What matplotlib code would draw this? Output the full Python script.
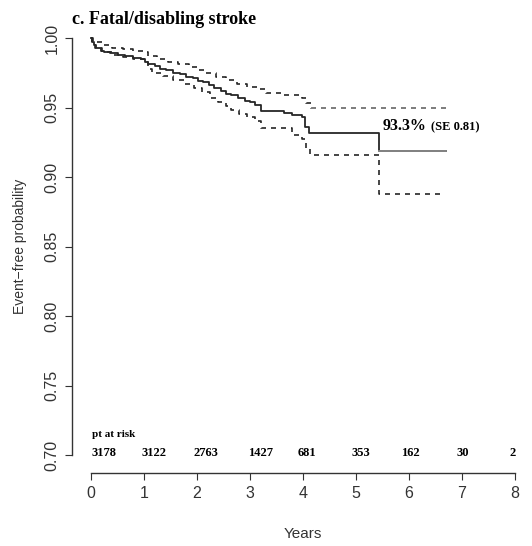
import matplotlib
matplotlib.use('Agg')
import matplotlib.pyplot as plt
import numpy as np

SERIF = ['Liberation Serif', 'DejaVu Serif']
SANS = ['Liberation Sans', 'DejaVu Sans']

# Kaplan-Meier estimate (step times in years, survival)
km_t = [0, 0.02, 0.05, 0.1, 0.18, 0.25, 0.35, 0.5, 0.65, 0.8, 0.95, 1.02, 1.08,
        1.2, 1.3, 1.42, 1.55, 1.68, 1.8, 1.92, 2.02, 2.12, 2.22, 2.32, 2.45,
        2.55, 2.65, 2.78, 2.9, 3.0, 3.1, 3.2, 3.65, 3.8, 3.98, 4.04, 4.12,
        5.44, 6.69]
km_s = [1.0, 0.997, 0.995, 0.993, 0.991, 0.990, 0.989, 0.988, 0.987, 0.9858,
        0.985, 0.983, 0.981, 0.980, 0.978, 0.977, 0.975, 0.974, 0.972, 0.971,
        0.969, 0.968, 0.966, 0.964, 0.962, 0.960, 0.959, 0.957, 0.955, 0.954,
        0.952, 0.9475, 0.946, 0.9445, 0.943, 0.936, 0.932, 0.919, 0.919]

# upper confidence limit
up_t = [0, 0.03, 0.1, 0.25, 0.4, 0.6, 0.8, 1.0, 1.08, 1.25, 1.45, 1.65, 1.85,
        2.0, 2.15, 2.35, 2.55, 2.75, 2.95, 3.15, 3.3, 3.6, 3.98, 4.05, 4.15, 6.69]
up_s = [1.0, 0.998, 0.997, 0.995, 0.993, 0.992, 0.991, 0.990, 0.987, 0.985,
        0.983, 0.981, 0.979, 0.977, 0.975, 0.972, 0.970, 0.967, 0.965, 0.963,
        0.9605, 0.959, 0.957, 0.953, 0.950, 0.950]

# lower confidence limit
lo_t = [0, 0.02, 0.08, 0.2, 0.4, 0.6, 0.8, 1.0, 1.08, 1.15, 1.35, 1.55, 1.75,
        1.95, 2.1, 2.25, 2.4, 2.55, 2.65, 2.8, 2.95, 3.1, 3.2, 3.8, 3.98, 4.05,
        4.14, 5.44, 6.58]
lo_s = [1.0, 0.995, 0.993, 0.990, 0.988, 0.9865, 0.985, 0.983, 0.978, 0.975,
        0.973, 0.970, 0.967, 0.964, 0.961, 0.957, 0.954, 0.951, 0.948, 0.945,
        0.943, 0.940, 0.9355, 0.930, 0.927, 0.921, 0.9155, 0.8875, 0.8875]

years = [0, 1, 2, 3, 4, 5, 6, 7, 8]
at_risk = [3178, 3122, 2763, 1427, 681, 353, 162, 30, 2]
risk_shift = [0.25, 0.19, 0.17, 0.2, 0.07, 0.1, 0.03, 0.02, -0.05]

yticks = [0.70, 0.75, 0.80, 0.85, 0.90, 0.95, 1.00]

fig = plt.figure(figsize=(5.32, 5.46), dpi=100)
ax = fig.add_axes([91 / 532, 1 - 455 / 546, 424 / 532, 417 / 546])

dark = '#262626'
grey = '#8a8a8a'
dash = (0, (3, 3))

ax.step(km_t, km_s, where='post', color=dark, lw=1.3, clip_on=False)
ax.step(km_t[-2:], km_s[-2:], where='post', color=grey, lw=1.3, clip_on=False)
ax.step(up_t, up_s, where='post', color=dark, lw=1.2, ls=dash, clip_on=False)
ax.step(up_t[-2:], up_s[-2:], where='post', color=grey, lw=1.2, ls=dash, clip_on=False)
ax.step(lo_t, lo_s, where='post', color=dark, lw=1.2, ls=dash, clip_on=False)

ax.set_xlim(0, 8)
ax.set_ylim(0.70, 1.00)
for s in ['top', 'right']:
    ax.spines[s].set_visible(False)
ax.spines['left'].set_position(('outward', 13.5))
ax.spines['bottom'].set_position(('outward', 13))
ax.spines['left'].set_bounds(0.70, 1.00)
ax.spines['bottom'].set_bounds(0, 8)
for s in ['left', 'bottom']:
    ax.spines[s].set_color('#333333')
    ax.spines[s].set_linewidth(1.0)

ax.set_xticks(years)
ax.set_xticklabels([str(y) for y in years], family=SANS, fontsize=11.5, color='#333333')
ax.set_yticks(yticks)
ax.set_yticklabels(['%.2f' % v for v in yticks], family=SANS, fontsize=11.5,
                   rotation=90, va='center', color='#333333')
ax.tick_params(length=5, color='#333333', pad=4)

ax.set_xlabel('Years', family=SANS, fontsize=11, color='#333333', labelpad=19)
ax.set_ylabel('Event\u2212free probability', family=SANS, fontsize=10,
              color='#333333', labelpad=13)

fig.text(72 / 532, 1 - 24 / 546, 'c. Fatal/disabling stroke', family=SERIF,
         fontweight='bold', fontsize=13, va='baseline', ha='left')

ax.text(5.5, 0.9338, '93.3%', family=SERIF, fontweight='bold', fontsize=11.5,
        va='baseline', ha='left')
ax.text(6.42, 0.9338, '(SE 0.81)', family=SERIF, fontweight='bold', fontsize=9,
        va='baseline', ha='left')

ax.text(0.02, 0.713, 'pt at risk', family=SERIF, fontweight='bold', fontsize=8,
        va='baseline', ha='left')
for y, n, d in zip(years, at_risk, risk_shift):
    ax.text(y + d, 0.7015, str(n), family=SERIF, fontweight='bold', fontsize=9,
            va='center', ha='center', clip_on=False)

fig.savefig('out.png', dpi=100, facecolor='white')
